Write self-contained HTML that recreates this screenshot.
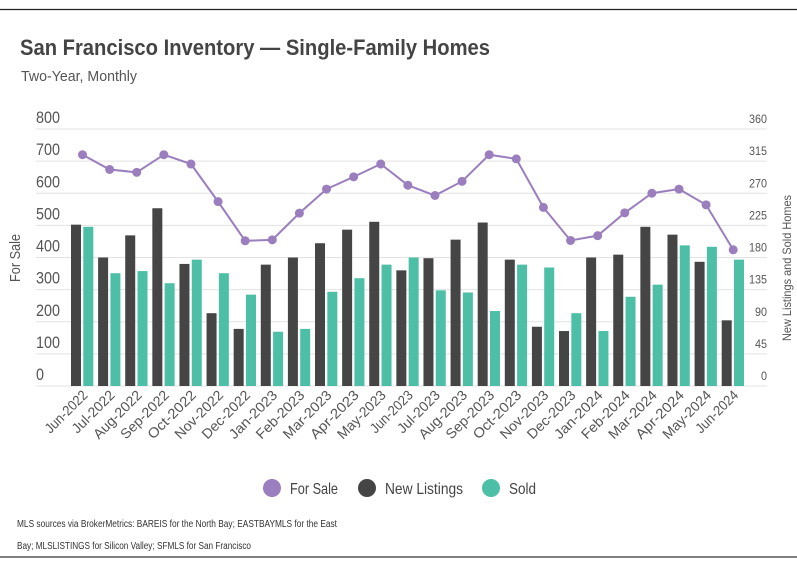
<!DOCTYPE html>
<html><head><meta charset="utf-8">
<style>
body{margin:0;background:#fff;width:797px;height:562px;overflow:hidden;font-family:"Liberation Sans",sans-serif;}
svg text{font-family:"Liberation Sans",sans-serif;}
</style></head>
<body>
<svg id="chart" width="797" height="562" xmlns="http://www.w3.org/2000/svg">
<line x1="0" y1="9.5" x2="797" y2="9.5" stroke="#222" stroke-width="1.2"/>
<line x1="0" y1="557" x2="797" y2="557" stroke="#555" stroke-width="1.5"/>
<text x="20" y="55" font-size="22" font-weight="bold" fill="#444" textLength="470" lengthAdjust="spacingAndGlyphs">San Francisco Inventory — Single-Family Homes</text>
<text x="21" y="81" font-size="15" fill="#555" textLength="116" lengthAdjust="spacingAndGlyphs">Two-Year, Monthly</text>
<g id="grid"></g><g id="bars"></g><g id="line"></g><g id="axes"></g>
<text transform="translate(20,258) rotate(-90)" text-anchor="middle" font-size="15" fill="#555" textLength="48" lengthAdjust="spacingAndGlyphs">For Sale</text>
<text transform="translate(791,268) rotate(-90)" text-anchor="middle" font-size="12" fill="#555" textLength="146" lengthAdjust="spacingAndGlyphs">New Listings and Sold Homes</text>
<g>
<g><circle cx="272" cy="488" r="9" fill="#9b7ebd"/><text x="290" y="494" font-size="16" fill="#444" textLength="48" lengthAdjust="spacingAndGlyphs">For Sale</text></g>
<g><circle cx="367" cy="488" r="9" fill="#454545"/><text x="385" y="494" font-size="16" fill="#444" textLength="78" lengthAdjust="spacingAndGlyphs">New Listings</text></g>
<g><circle cx="491" cy="488" r="9" fill="#4dbfa6"/><text x="509" y="494" font-size="16" fill="#444" textLength="27" lengthAdjust="spacingAndGlyphs">Sold</text></g>
</g>
<text x="17" y="527" font-size="10" fill="#333" textLength="320" lengthAdjust="spacingAndGlyphs">MLS sources via BrokerMetrics: BAREIS for the North Bay; EASTBAYMLS for the East</text>
<text x="17" y="549" font-size="10" fill="#333" textLength="234" lengthAdjust="spacingAndGlyphs">Bay; MLSLISTINGS for Silicon Valley; SFMLS for San Francisco</text>
</svg>
<script>
const categories=["Jun-2022","Jul-2022","Aug-2022","Sep-2022","Oct-2022","Nov-2022","Dec-2022","Jan-2023","Feb-2023","Mar-2023","Apr-2023","May-2023","Jun-2023","Jul-2023","Aug-2023","Sep-2023","Oct-2023","Nov-2023","Dec-2023","Jan-2024","Feb-2024","Mar-2024","Apr-2024","May-2024","Jun-2024"];
const forSale=[720,674,665,720,691,574,452,455,538,613,651,691,625,593,637,720,707,556,453,468,539,600,613,564,424];
const newListings=[226,180,211,249,171,102,80,170,180,200,219,230,162,179,205,229,177,83,77,180,184,223,212,174,92];
const sold=[223,158,161,144,177,158,128,76,80,132,151,170,180,134,131,105,170,166,102,77,125,142,197,195,177];
const leftTicks=[0,100,200,300,400,500,600,700,800];
const rightTicks=[0,45,90,135,180,225,270,315,360];
const NS="http://www.w3.org/2000/svg";
const Y0=386,Y1=129,X0=36,X1=767;
function yL(v){return Y0-(v/800)*(Y0-Y1);}
function yR(v){return Y0-(v/360)*(Y0-Y1);}
function xC(i){return 82.5+i*(721.7-71)/24;}
function mk(tag,attrs,parent){const e=document.createElementNS(NS,tag);for(const k in attrs)e.setAttribute(k,attrs[k]);parent.appendChild(e);return e;}
const grid=document.getElementById('grid'),bars=document.getElementById('bars'),line=document.getElementById('line'),axes=document.getElementById('axes');
leftTicks.forEach((t,i)=>{
  const g=mk('line',{x1:X0,x2:X1,y1:yL(t),y2:yL(t),stroke:'#e3e3e3','stroke-width':1},grid);
  
  
  const lt=mk('text',{x:36,y:yL(t)-6,'font-size':17,fill:'#555',textLength:String(t).length*8,lengthAdjust:'spacingAndGlyphs'},axes);lt.textContent=t;
  
  
});
rightTicks.forEach(t=>{
  const rt=mk('text',{x:767,y:yR(t)-6,'font-size':12,fill:'#555','text-anchor':'end',textLength:String(t).length*6,lengthAdjust:'spacingAndGlyphs'},axes);rt.textContent=t;
  
  
});
categories.forEach((c,i)=>{
  const cx=xC(i);
  const b1=mk('rect',{x:cx-11.5,y:yR(newListings[i]),width:10,height:Y0-yR(newListings[i]),fill:'#454545'},bars);
  
  
  const b2=mk('rect',{x:cx+0.8,y:yR(sold[i]),width:10,height:Y0-yR(sold[i]),fill:'#4dbfa6'},bars);
  
  
  const tl=mk('text',{transform:`translate(${cx+6},${Y0+10}) rotate(-45)`,'text-anchor':'end','font-size':14,fill:'#555',textLength:c.startsWith('J')&&c[1]!=='a'?54:62,lengthAdjust:'spacingAndGlyphs'},axes);tl.textContent=c;
  
  
});
const pts=forSale.map((v,i)=>xC(i)+','+yL(v)).join(' ');
const pl=mk('polyline',{points:pts,fill:'none',stroke:'#9b7ebd','stroke-width':2},line);


forSale.forEach((v,i)=>{
  const p=mk('circle',{cx:xC(i),cy:yL(v),r:4.5,fill:'#9b7ebd'},line);
  
  
});
</script>
</body></html>
